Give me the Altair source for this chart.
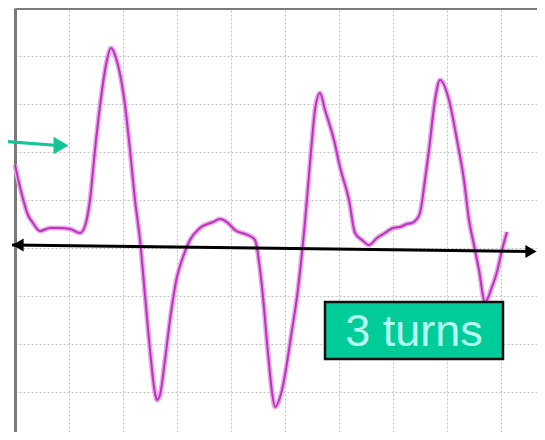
import altair as alt
import pandas as pd

# Trace, in grid divisions (x: horizontal divisions from left frame, y: vertical divisions from centre line)
PX = [15, 22, 28, 33, 40, 50, 60, 70, 80, 85, 90, 95, 100, 106, 111, 116, 125, 130, 135, 140, 145, 150, 155, 157,
      160, 165, 170, 177, 183, 190, 200, 213, 220, 228, 235, 245, 250, 255, 262, 268, 272, 275, 282, 292, 297, 302,
      305, 309, 312, 315, 320, 325, 334, 340, 349, 355, 362, 369, 377, 385, 393, 400, 407, 412, 416, 420, 425, 429,
      435, 440, 449, 457, 464, 469, 474, 479, 485, 492, 497, 502, 507]
PY = [165, 195, 215, 223, 231, 228, 228, 229, 233, 226, 200, 150, 106, 65, 48, 58, 105, 150, 200, 240, 295, 350, 393, 400,
      395, 360, 320, 277, 257, 240, 228, 222, 219, 223, 230, 234, 236, 240, 287, 353, 392, 407, 390, 330, 297, 253,
      222, 175, 140, 110, 93, 110, 140, 167, 200, 233, 240, 245, 238, 233, 228, 227, 224, 223, 220, 213, 180, 150,
      100, 80, 100, 140, 180, 220, 245, 270, 302, 287, 272, 250, 232]

X0, Y0, DX, DY = 15, 248, 54, 48
PLOT_W, PLOT_H = 522, 424
trace_x = [(p - X0) / DX for p in PX]
trace_y = [(Y0 - p) / DY for p in PY]

X_MAX = PLOT_W / DX
Y_MAX = (Y0 - 8) / DY
Y_MIN = Y_MAX - PLOT_H / DY
x_grid = list(range(0, 10))
y_grid = list(range(-3, 6))

# Annotations (in grid divisions)
teal_arrow_x = [(0 - X0) / DX, (58 - X0) / DX]
teal_arrow_y = [(Y0 - 141) / DY, (Y0 - 145.5) / DY]
teal_head = [(61 - X0) / DX, (Y0 - 145.5) / DY]

black_arrow_x = [(12 - X0) / DX, (534 - X0) / DX]
black_arrow_y = [(Y0 - 245) / DY, (Y0 - 251.5) / DY]
black_head_left = [(18 - X0) / DX, (Y0 - 245) / DY]
black_head_right = [(531 - X0) / DX, (Y0 - 251.4) / DY]

box_x = [(325 - X0) / DX, (503 - X0) / DX]
box_y = [(Y0 - 302) / DY, (Y0 - 359) / DY]
box_label = "3 turns"

xs = alt.Scale(domain=[0, X_MAX], nice=False, zero=False)
ys = alt.Scale(domain=[Y_MIN, Y_MAX], nice=False, zero=False)

trace_df = pd.DataFrame({"x": trace_x, "y": trace_y, "i": range(len(trace_x))})

base_axes = alt.Chart(pd.DataFrame({"x": [0], "y": [0]})).mark_point(opacity=0).encode(
    x=alt.X("x:Q", scale=xs, axis=alt.Axis(orient="top", values=x_grid, grid=True, gridColor="#c2c2c2",
                                           gridDash=[2, 2], gridWidth=1, labels=False, ticks=False,
                                           domain=True, domainColor="#7a7a7a", domainWidth=3, title=None)),
    y=alt.Y("y:Q", scale=ys, axis=alt.Axis(orient="left", values=y_grid, grid=True, gridColor="#c2c2c2",
                                           gridDash=[2, 2], gridWidth=1, labels=False, ticks=False,
                                           domain=True, domainColor="#7a7a7a", domainWidth=3, title=None)),
)

halo = alt.Chart(trace_df).mark_line(color="#eaa8ea", strokeWidth=5, interpolate="monotone").encode(
    x=alt.X("x:Q", scale=xs), y=alt.Y("y:Q", scale=ys), order="i:Q")
core = alt.Chart(trace_df).mark_line(color="#b935b9", strokeWidth=2, interpolate="monotone").encode(
    x=alt.X("x:Q", scale=xs), y=alt.Y("y:Q", scale=ys), order="i:Q")

teal_df = pd.DataFrame({"x": [teal_arrow_x[0]], "x2": [teal_arrow_x[1]], "y": [teal_arrow_y[0]], "y2": [teal_arrow_y[1]]})
teal_line = alt.Chart(teal_df).mark_rule(color="#14c595", strokeWidth=3).encode(
    x=alt.X("x:Q", scale=xs), x2="x2:Q", y=alt.Y("y:Q", scale=ys), y2="y2:Q")
teal_tip = alt.Chart(pd.DataFrame({"x": [teal_head[0]], "y": [teal_head[1]]})).mark_point(
    shape="triangle-right", filled=True, color="#14c595", opacity=1, size=300).encode(
    x=alt.X("x:Q", scale=xs), y=alt.Y("y:Q", scale=ys))

black_df = pd.DataFrame({"x": [black_arrow_x[0]], "x2": [black_arrow_x[1]], "y": [black_arrow_y[0]], "y2": [black_arrow_y[1]]})
black_line = alt.Chart(black_df).mark_rule(color="#000000", strokeWidth=3).encode(
    x=alt.X("x:Q", scale=xs), x2="x2:Q", y=alt.Y("y:Q", scale=ys), y2="y2:Q")
black_l = alt.Chart(pd.DataFrame({"x": [black_head_left[0]], "y": [black_head_left[1]]})).mark_point(
    shape="triangle-left", filled=True, color="#000000", opacity=1, size=170).encode(
    x=alt.X("x:Q", scale=xs), y=alt.Y("y:Q", scale=ys))
black_r = alt.Chart(pd.DataFrame({"x": [black_head_right[0]], "y": [black_head_right[1]]})).mark_point(
    shape="triangle-right", filled=True, color="#000000", opacity=1, size=170).encode(
    x=alt.X("x:Q", scale=xs), y=alt.Y("y:Q", scale=ys))

box_df = pd.DataFrame({"x": [box_x[0]], "x2": [box_x[1]], "y": [box_y[0]], "y2": [box_y[1]],
                       "cx": [(box_x[0] + box_x[1]) / 2], "cy": [(box_y[0] + box_y[1]) / 2], "t": [box_label]})
box = alt.Chart(box_df).mark_rect(color="#00cc99", stroke="#111111", strokeWidth=2.5).encode(
    x=alt.X("x:Q", scale=xs), x2="x2:Q", y=alt.Y("y:Q", scale=ys), y2="y2:Q")
box_text = alt.Chart(box_df).mark_text(font="Liberation Sans", fontSize=45, color="#b4fff0",
                                       align="center", baseline="middle", dy=1).encode(
    x=alt.X("cx:Q", scale=xs), y=alt.Y("cy:Q", scale=ys), text="t:N")

chart = alt.layer(base_axes, halo, core, teal_line, teal_tip, black_line, black_l, black_r, box, box_text).properties(
    width=PLOT_W, height=PLOT_H, autosize=alt.AutoSizeParams(type="none"),
    padding={"left": 7, "top": 0, "right": 0, "bottom": 0}, background="white"
).configure_view(stroke=None)

chart.save("out.html", embed_options={"renderer": "svg", "actions": False})
